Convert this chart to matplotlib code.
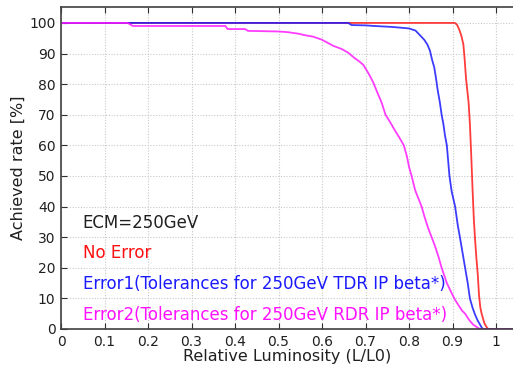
import matplotlib
matplotlib.use("Agg")

import matplotlib.pyplot as plt

# relative luminosity (L/L0) vs achieved rate [%]
red_x = [0.0, 0.905, 0.91, 0.915, 0.92, 0.925, 0.928, 0.931, 0.934, 0.937, 0.94, 0.943,
         0.946, 0.949, 0.952, 0.955, 0.958, 0.961, 0.964, 0.967, 0.970, 0.973, 0.976,
         0.979, 0.982, 1.04]
red_y = [100, 100, 99.5, 98, 96, 93, 88, 82, 78, 74, 67, 57,
         46, 36, 29, 23, 18, 11, 7, 5, 3.5, 2, 1.2,
         0.5, 0, 0]

blue_x = [0.0, 0.66, 0.668, 0.70, 0.72, 0.76, 0.80, 0.815, 0.825, 0.835, 0.842, 0.848,
          0.853, 0.858, 0.862, 0.866, 0.871, 0.875, 0.879, 0.883, 0.887, 0.890, 0.893,
          0.898, 0.906, 0.912, 0.917, 0.923, 0.929, 0.935, 0.940, 0.946, 0.951, 0.957,
          0.963, 0.967, 0.970, 1.04]
blue_y = [100, 100, 99.3, 99.2, 99, 98.7, 98.2, 97.5, 96, 94.5, 93, 91,
          88, 85.5, 82, 78, 74, 70, 67, 63, 60, 55, 50,
          45, 40, 34, 30, 25, 20, 15, 10, 7, 5, 3,
          1.5, 0.5, 0, 0]

mag_x = [0.0, 0.153, 0.165, 0.378, 0.383, 0.423, 0.43, 0.50, 0.52, 0.545, 0.56, 0.58,
         0.60, 0.626, 0.645, 0.66, 0.675, 0.685, 0.695, 0.707, 0.718, 0.728, 0.737,
         0.746, 0.757, 0.767, 0.778, 0.788, 0.795, 0.800, 0.806, 0.814, 0.822, 0.829,
         0.836, 0.844, 0.852, 0.860, 0.868, 0.875, 0.881, 0.887, 0.897, 0.906, 0.915,
         0.922, 0.929, 0.938, 0.947, 0.955, 0.963, 1.04]
mag_y = [100, 100, 99, 99, 98, 98, 97.4, 97.2, 97, 96.5, 96, 95.5,
         94.5, 92.5, 91.5, 90.3, 88.5, 87.5, 86.3, 83.5, 80.5, 77, 74,
         70, 67.5, 65, 62.5, 60, 56.5, 53, 50, 45.4, 42.5, 40,
         36.5, 33, 30, 27, 23.5, 20, 17.5, 15, 12, 9.5, 7.5,
         6, 5, 3, 1.5, 0.7, 0, 0]

labels = ["ECM=250GeV",
          "No Error",
          "Error1(Tolerances for 250GeV TDR IP beta*)",
          "Error2(Tolerances for 250GeV RDR IP beta*)"]
label_colors = ["#202020", "#ff1010", "#1a1aff", "#ff10ff"]
label_y = [34.6, 24.8, 14.7, 4.6]

x_ticks = [0, 0.1, 0.2, 0.3, 0.4, 0.5, 0.6, 0.7, 0.8, 0.9, 1]
x_tick_labels = ["0", "0.1", "0.2", "0.3", "0.4", "0.5", "0.6", "0.7", "0.8", "0.9", "1"]
y_ticks = [0, 10, 20, 30, 40, 50, 60, 70, 80, 90, 100]

fig = plt.figure(figsize=(5.13, 3.66), dpi=100)
ax = fig.add_axes([61 / 513, 37 / 366, 452 / 513, 322 / 366])

ax.plot(red_x, red_y, color="#ff1a1a", lw=1.3, alpha=0.85)
ax.plot(blue_x, blue_y, color="#1a1aff", lw=1.3, alpha=0.85)
ax.plot(mag_x, mag_y, color="#ff1aff", lw=1.3, alpha=0.85)

for txt, col, yy in zip(labels, label_colors, label_y):
    ax.text(0.05, yy, txt, color=col, fontsize=12, va="center", ha="left")

ax.set_xlim(0, 452 / 435)
ax.set_ylim(0, 105.2)
ax.set_xticks(x_ticks)
ax.set_xticklabels(x_tick_labels)
ax.set_yticks(y_ticks)

ax.grid(True, color="#c8c8c8", linestyle=(0, (1, 1.5)), linewidth=0.8)
ax.set_axisbelow(True)

ax.tick_params(axis="both", direction="in", length=4, width=0.8, labelsize=10,
               colors="#303030", labelcolor="#202020", pad=4, top=True)
ax.spines["right"].set_visible(False)
for s in ["left", "bottom", "top"]:
    ax.spines[s].set_color("#404040")
    ax.spines[s].set_linewidth(1.2)

ax.set_xlabel("Relative Luminosity (L/L0)", fontsize=11.5, color="#202020", labelpad=0)
ax.set_ylabel("Achieved rate [%]", fontsize=11.5, color="#202020", labelpad=2)

fig.savefig("out.png", dpi=100)
plt.close(fig)
